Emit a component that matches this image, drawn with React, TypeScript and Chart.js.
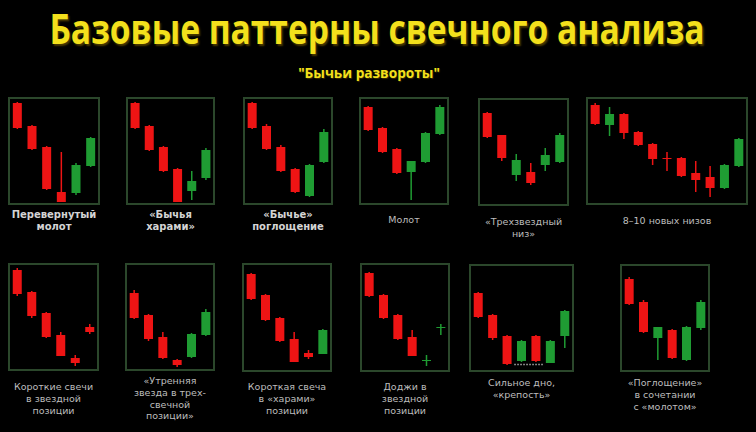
import React, { useEffect, useLayoutEffect, useRef, useState } from "react";
import { Chart, registerables } from "chart.js";

Chart.register(...registerables);

// [open, close, high, low]
type OHLC = [number, number, number, number];

const invertedHammer: OHLC[] = [
  [102, 77, 103, 76],
  [79, 56, 80, 55],
  [58, 16, 59, 15],
  [13, 3, 53, 3],
  [12, 40, 42, 10],
  [39, 67, 68, 38],
];
const bullishHarami: OHLC[] = [
  [102, 77, 103, 76],
  [79, 55, 80, 54],
  [58, 34, 59, 33],
  [36, 3, 37, 3],
  [14, 24, 34, 5],
  [27, 55, 57, 25],
];
const bullishEngulfing: OHLC[] = [
  [102, 77, 103, 76],
  [79, 56, 81, 55],
  [58, 34, 60, 33],
  [36, 13, 37, 12],
  [9, 40, 41, 8],
  [43, 73, 76, 42],
];
const hammer: OHLC[] = [
  [98, 75, 99, 74],
  [77, 53, 78, 52],
  [56, 32, 57, 31],
  [33, 44, 44, 5],
  [43, 72, 73, 42],
  [71, 98, 100, 70],
];
const threeStarBottom: OHLC[] = [
  [93, 69, 94, 68],
  [71, 48, 71, 45],
  [31, 46, 52, 25],
  [34, 23, 43, 21],
  [41, 51, 58, 35],
  [44, 71, 73, 43],
];
const newLows: OHLC[] = [
  [100, 81, 102, 80],
  [80, 91, 98, 69],
  [91, 72, 92, 66],
  [73, 60, 74, 59],
  [61, 46, 62, 40],
  [47, 46, 53, 34],
  [47, 29, 48, 28],
  [32, 25, 44, 13],
  [28, 17, 39, 8],
  [17, 40, 41, 16],
  [39, 66, 67, 38],
];
const shortStarCandles: OHLC[] = [
  [101, 77, 103, 75],
  [79, 55, 80, 53],
  [58, 34, 59, 33],
  [36, 15, 39, 15],
  [13, 8, 16, 5],
  [44, 39, 47, 37],
];
const morningStar: OHLC[] = [
  [78, 53, 81, 52],
  [56, 32, 57, 30],
  [34, 13, 39, 12],
  [11, 6, 12, 4],
  [14, 37, 38, 13],
  [36, 59, 62, 35],
];
const shortHarami: OHLC[] = [
  [98, 73, 99, 72],
  [77, 52, 78, 51],
  [54, 31, 55, 30],
  [33, 10, 40, 10],
  [19, 15, 22, 13],
  [18, 42, 43, 18],
];
const dojiStar: OHLC[] = [
  [99, 76, 100, 75],
  [77, 54, 78, 53],
  [57, 33, 58, 32],
  [35, 16, 42, 16],
  [11, 12, 17, 6],
  [44, 45, 48, 37],
];
const fortress: OHLC[] = [
  [79, 55, 80, 54],
  [57, 34, 58, 32],
  [36, 8, 37, 7],
  [11, 31, 32, 10],
  [36, 11, 37, 10],
  [9, 31, 32, 9],
  [36, 61, 62, 24],
];
const fortressSupportLevel = 7.5;
const fortressSupportRange = [2.5, 4.5];
const engulfingHammer: OHLC[] = [
  [93, 68, 95, 67],
  [70, 40, 72, 39],
  [34, 45, 45, 12],
  [42, 14, 43, 13],
  [12, 45, 46, 11],
  [44, 70, 72, 42],
];

const titleText = "Базовые паттерны свечного анализа";
const subtitleText = "\"Бычьи развороты\"";

const labels: string[][] = [
  ["Перевернутый", "молот"],
  ["«Бычья", "харами»"],
  ["«Бычье»", "поглощение"],
  ["Молот"],
  ["«Трехзвездный", "низ»"],
  ["8–10 новых низов"],
  ["Короткие свечи", "в звездной", "позиции"],
  ["«Утренняя", "звезда в трех-", "свечной", "позиции»"],
  ["Короткая свеча", "в «харами»", "позиции"],
  ["Доджи в", "звездной", "позиции"],
  ["Сильное дно,", "«крепость»"],
  ["«Поглощение»", "в сочетании", "с «молотом»"],
];

const panelCandles: OHLC[][] = [
  invertedHammer, bullishHarami, bullishEngulfing, hammer, threeStarBottom, newLows,
  shortStarCandles, morningStar, shortHarami, dojiStar, fortress, engulfingHammer,
];

// layout: [x, y, w, h, labelFirstLineCenterY, bold]
const layout: [number, number, number, number, number, boolean][] = [
  [8, 97, 92, 108, 215, true],
  [126, 97, 89, 108, 215, true],
  [243, 97, 90, 108, 215, true],
  [359, 97, 90, 108, 220, false],
  [478, 98, 91, 108, 222, false],
  [586, 97, 162, 108, 221, false],
  [8, 263, 91, 108, 387, false],
  [125, 263, 90, 108, 381, false],
  [242, 263, 90, 109, 387, false],
  [360, 263, 90, 109, 387, false],
  [469, 264, 105, 108, 383, false],
  [620, 264, 90, 108, 383, false],
];

const RED = "#ee1414";
const GREEN = "#1f9c33";
const BORDER = "#2b472b";
const BW = 2;

const supportPlugin = {
  id: "supportLine",
  afterDatasetsDraw(chart: any, _args: any, opts: any) {
    if (!opts || !opts.range) return;
    const { ctx, scales } = chart;
    const y = scales.y.getPixelForValue(opts.level);
    const x0 = scales.x.getPixelForValue(opts.range[0]);
    const x1 = scales.x.getPixelForValue(opts.range[1]);
    ctx.save();
    ctx.strokeStyle = "#a8a8a8";
    ctx.lineWidth = 1.5;
    ctx.setLineDash([1.5, 1.5]);
    ctx.beginPath();
    ctx.moveTo(x0, y);
    ctx.lineTo(x1, y);
    ctx.stroke();
    ctx.restore();
  },
};

function CandlePanel({ idx }: { idx: number }) {
  const ref = useRef<HTMLCanvasElement>(null);
  const [x, y, w, h] = layout[idx];
  const candles = panelCandles[idx];
  useEffect(() => {
    const colors = candles.map((c) => (c[1] >= c[0] ? GREEN : RED));
    const cats = candles.map((_, i) => String(i + 1));
    const datasets: any[] = [
      {
        type: "bar",
        data: candles.map((c) => [Math.min(c[0], c[1]), Math.max(c[0], c[1])]),
        backgroundColor: colors,
        maxBarThickness: 9,
        grouped: false,
        borderWidth: 0,
        order: 1,
      },
      {
        type: "bar",
        data: candles.map((c) => [c[3], c[2]]),
        backgroundColor: colors,
        maxBarThickness: 1.5,
        grouped: false,
        borderWidth: 0,
        order: 2,
      },
    ];
    const chart = new Chart(ref.current!, {
      type: "bar",
      data: { labels: cats, datasets },
      plugins: [supportPlugin],
      options: {
        animation: false,
        responsive: false,
        events: [],
        layout: { padding: 0 },
        plugins: {
          legend: { display: false },
          tooltip: { enabled: false },
          title: { display: false },
          supportLine: idx === 10 ? { range: fortressSupportRange, level: fortressSupportLevel } : {},
        } as any,
        scales: {
          x: { type: "category", offset: true, display: false },
          y: { min: BW, max: h - BW, display: false },
        },
      },
    });
    return () => chart.destroy();
  }, []);
  return (
    <div
      style={{
        position: "absolute",
        left: x,
        top: y,
        width: w - 2 * BW,
        height: h - 2 * BW,
        border: `${BW}px solid ${BORDER}`,
      }}
    >
      <canvas ref={ref} width={w - 2 * BW} height={h - 2 * BW} style={{ display: "block", filter: "blur(0.4px)" }} />
    </div>
  );
}

function PanelLabel({ idx }: { idx: number }) {
  const [x, , w, , ly, bold] = layout[idx];
  const lh = 11.7;
  return (
    <div
      style={{
        position: "absolute",
        left: x - 20,
        width: w + 40,
        top: ly - lh / 2,
        textAlign: "center",
        fontFamily: "'DejaVu Sans', Verdana, sans-serif",
        fontSize: bold ? 10 : 9.5,
        fontWeight: bold ? 700 : 400,
        lineHeight: `${lh}px`,
        color: bold ? "#d4d4d4" : "#bdbdbd",
        whiteSpace: "nowrap",
      }}
    >
      {labels[idx].map((l, i) => (
        <div key={i}>{l}</div>
      ))}
    </div>
  );
}

function FitText({ text, width, center, top, size, color, shadow }: { text: string; width: number; center: number; top: number; size: number; color: string; shadow: string }) {
  const ref = useRef<HTMLSpanElement>(null);
  const [scale, setScale] = useState(1);
  useLayoutEffect(() => {
    if (ref.current) {
      const w = ref.current.offsetWidth;
      if (w > 0) setScale(width / w);
    }
  }, []);
  return (
    <span
      ref={ref}
      style={{
        position: "absolute",
        left: center,
        top,
        lineHeight: `${size}px`,
        display: "inline-block",
        fontFamily: "'Open Sans', sans-serif",
        fontWeight: 700,
        fontSize: size,
        color,
        textShadow: shadow,
        whiteSpace: "nowrap",
        transform: `translateX(-50%) scaleX(${scale})`,
        transformOrigin: "center",
      }}
    >
      {text}
    </span>
  );
}

export default function App() {
  useEffect(() => {
    document.body.style.margin = "0";
    document.body.style.background = "#000";
  }, []);
  return (
    <div style={{ position: "fixed", left: 0, top: 0, width: 756, height: 432, background: "#000", overflow: "hidden" }}>
      <FitText text={titleText} width={655} center={377} top={7} size={42} color="#f3e01c" shadow="2px 2px 2px #4a3a00" />
      <FitText text={subtitleText} width={142} center={369} top={65} size={15} color="#f3e01c" shadow="1px 1px 1px #3a2a00" />
      {layout.map((_, i) => (
        <CandlePanel key={"p" + i} idx={i} />
      ))}
      {layout.map((_, i) => (
        <PanelLabel key={"l" + i} idx={i} />
      ))}
    </div>
  );
}
